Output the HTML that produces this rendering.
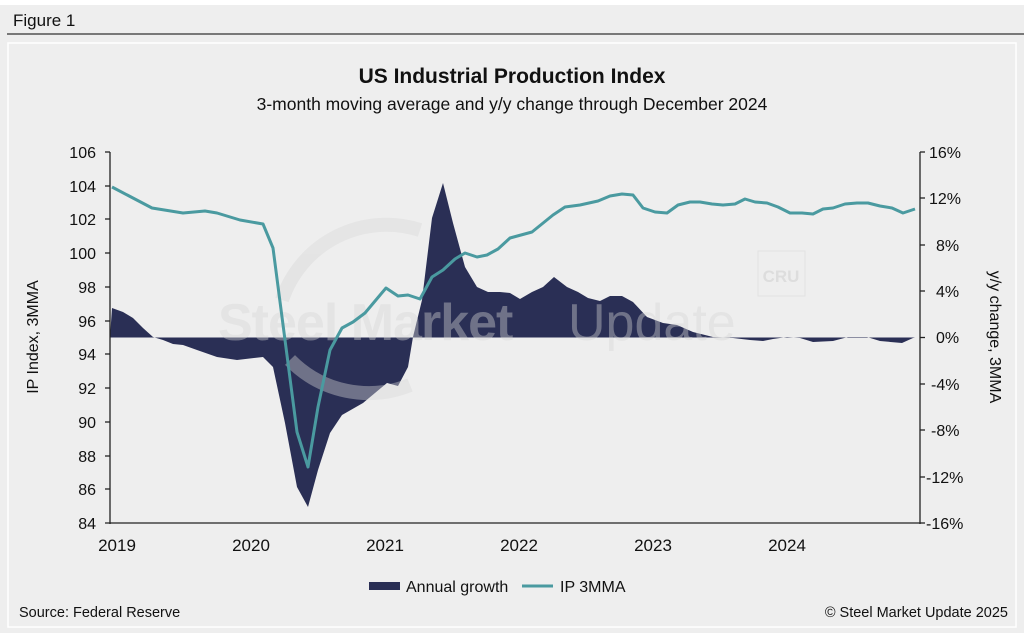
<!DOCTYPE html>
<html><head><meta charset="utf-8"><style>
html,body{margin:0;padding:0;background:#eeeeee;}
svg{display:block;font-family:"Liberation Sans",Arial,sans-serif;}
</style></head><body>
<svg width="1024" height="633" viewBox="0 0 1024 633">
<rect x="0" y="0" width="1024" height="633" fill="#eeeeee"/>
<rect x="0" y="0" width="1024" height="5" fill="#ffffff"/>
<text x="13" y="26" font-size="17" fill="#111">Figure 1</text>
<line x1="7" y1="34" x2="1024" y2="34" stroke="#333" stroke-width="1.3"/>
<rect x="8" y="43" width="1008" height="584" fill="#eeeeee" stroke="#ffffff" stroke-width="1.5"/>
<text x="512" y="83" font-size="21" font-weight="bold" text-anchor="middle" fill="#111">US Industrial Production Index</text>
<text x="512" y="110" font-size="17.5" text-anchor="middle" fill="#111">3-month moving average and y/y change through December 2024</text>

<!-- area -->
<polygon fill="#2a2f55" points="110,337.5 112,308 123,312 133,318 143,328 153,337 163,340 173,344 183,345 197,350 217,357 237,360 263,357 273,367 285,423 297,487 308,507 318,470 330,433 342,415 363,403 387,383 398,386 408,367 413,337 422,300 432,218 443,183 453,223 465,267 477,287 488,292 500,292 510,293 520,299 532,292 543,287 554,277 567,287 578,292 588,298 600,301 610,296 622,296 633,302 647,317 663,323 677,325 693,332 713,337 733,338 750,340 763,341 773,339 787,337 800,338 813,342 833,341 848,337 867,337 880,341 902,343 913,338 915,337.5"/>

<!-- watermark -->
<g fill="#d6d6d6" opacity="0.4">
<path d="M282,300 A110,110 0 0 1 420,230" fill="none" stroke="#d6d6d6" stroke-width="14"/>
<path d="M290,360 A110,110 0 0 0 410,385" fill="none" stroke="#d6d6d6" stroke-width="14"/>
<text x="218" y="340" font-size="52" font-weight="bold" letter-spacing="-1">Steel Market</text>
<text x="568" y="340" font-size="52">Update</text>
</g>
<rect x="758" y="251" width="47" height="45" fill="none" stroke="#e2e2e2" stroke-width="1"/>
<text x="781" y="282" font-size="17" font-weight="bold" fill="#dddddd" text-anchor="middle">CRU</text>

<!-- line -->
<polyline fill="none" stroke="#4a9aa0" stroke-width="3" stroke-linejoin="round" points="112,187 152,208 183,213 205,211 217,213 240,220 263,224 273,248 285,340 297,432 308,467 318,407 330,350 342,328 353,322 365,313 386,288 398,296 408,295 420,299 432,277 443,270 455,259 465,253 477,257 487,255 498,249 510,238 532,232 553,215 565,207 580,205 598,201 610,196 622,194 633,195 643,208 655,212 667,213 678,205 690,202 700,202 712,204 723,205 735,204 745,199 755,202 767,203 778,207 790,213 802,213 813,214 823,209 833,208 845,204 857,203 868,203 880,206 892,208 903,213 915,209"/>

<!-- axes -->
<g stroke="#222" stroke-width="1.3">
<line x1="110" y1="152" x2="110" y2="524"/>
<line x1="105" y1="523" x2="920" y2="523"/>
<line x1="920" y1="152" x2="920" y2="524"/>
<line x1="105" y1="152" x2="110" y2="152"/><line x1="105" y1="186" x2="110" y2="186"/><line x1="105" y1="219" x2="110" y2="219"/><line x1="105" y1="253" x2="110" y2="253"/><line x1="105" y1="287" x2="110" y2="287"/><line x1="105" y1="321" x2="110" y2="321"/><line x1="105" y1="354" x2="110" y2="354"/><line x1="105" y1="388" x2="110" y2="388"/><line x1="105" y1="422" x2="110" y2="422"/><line x1="105" y1="456" x2="110" y2="456"/><line x1="105" y1="489" x2="110" y2="489"/>
<line x1="920" y1="152" x2="925" y2="152"/><line x1="920" y1="198" x2="925" y2="198"/><line x1="920" y1="245" x2="925" y2="245"/><line x1="920" y1="291" x2="925" y2="291"/><line x1="920" y1="337.5" x2="925" y2="337.5"/><line x1="920" y1="384" x2="925" y2="384"/><line x1="920" y1="430" x2="925" y2="430"/><line x1="920" y1="477" x2="925" y2="477"/><line x1="920" y1="523" x2="925" y2="523"/>
</g>
<g font-size="16" fill="#111" text-anchor="end">
<text x="96" y="158">106</text><text x="96" y="192">104</text><text x="96" y="225">102</text><text x="96" y="259">100</text><text x="96" y="293">98</text><text x="96" y="327">96</text><text x="96" y="360">94</text><text x="96" y="394">92</text><text x="96" y="428">90</text><text x="96" y="462">88</text><text x="96" y="495">86</text><text x="96" y="529">84</text>
</g>
<g font-size="16" fill="#111" text-anchor="start">
<text x="929" y="158">16%</text><text x="929" y="204">12%</text><text x="936" y="251">8%</text><text x="936" y="297">4%</text><text x="936" y="343">0%</text><text x="931" y="390">-4%</text><text x="931" y="436">-8%</text><text x="926" y="483">-12%</text><text x="926" y="529">-16%</text>
</g>
<g font-size="17" fill="#111" text-anchor="middle">
<text x="117" y="551">2019</text><text x="251" y="551">2020</text><text x="385" y="551">2021</text><text x="519" y="551">2022</text><text x="653" y="551">2023</text><text x="787" y="551">2024</text>
</g>
<text transform="translate(38,337) rotate(-90)" font-size="16" text-anchor="middle" fill="#111">IP Index, 3MMA</text>
<text transform="translate(990,337) rotate(90)" font-size="16" text-anchor="middle" fill="#111">y/y change, 3MMA</text>

<rect x="369" y="582" width="31" height="8" fill="#2a2f55"/>
<text x="406" y="592" font-size="16" fill="#111">Annual growth</text>
<line x1="522" y1="586" x2="553" y2="586" stroke="#4a9aa0" stroke-width="3"/>
<text x="560" y="592" font-size="16" fill="#111">IP 3MMA</text>
<text x="19" y="617" font-size="14.5" fill="#111">Source: Federal Reserve</text>
<text x="1008" y="617" font-size="14.5" fill="#111" text-anchor="end">© Steel Market Update 2025</text>
</svg>
</body></html>
